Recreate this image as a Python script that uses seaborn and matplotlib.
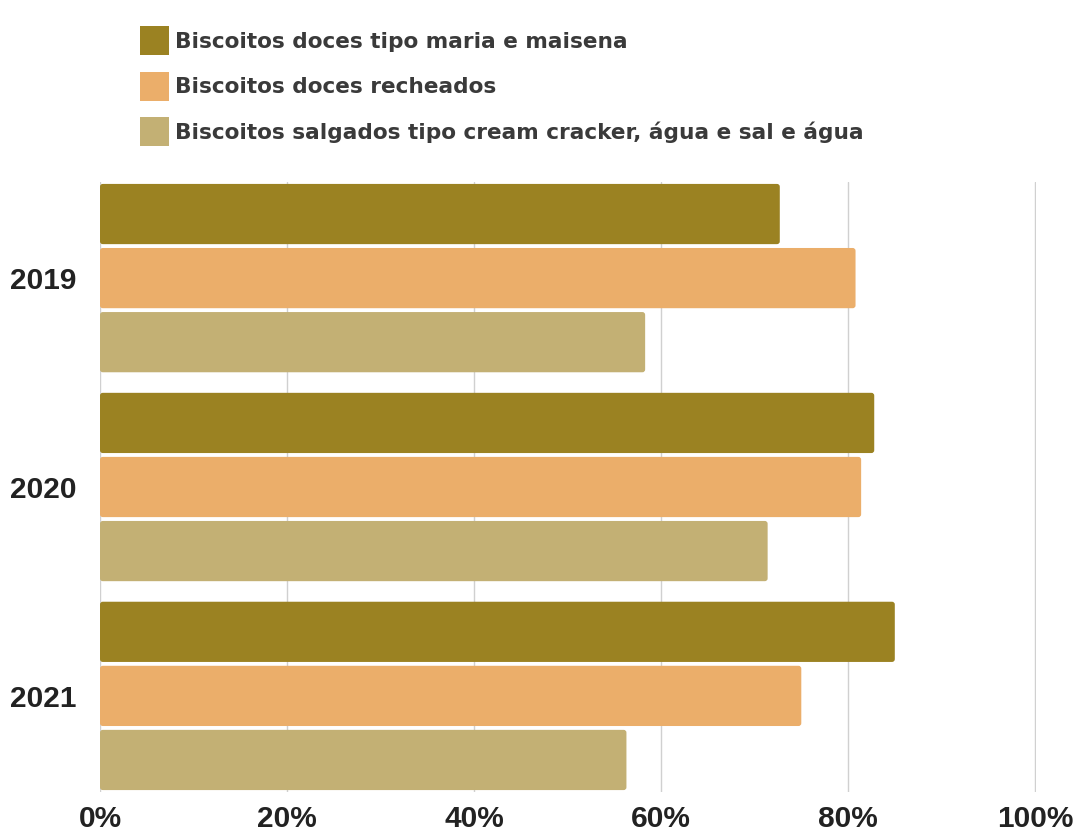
import numpy as np
import pandas as pd
import matplotlib
matplotlib.use('Agg')
import matplotlib.pyplot as plt
import seaborn as sns
from matplotlib.patches import FancyBboxPatch, Patch

years = ['2019', '2020', '2021']
series = ['Biscoitos doces tipo maria e maisena',
          'Biscoitos doces recheados',
          'Biscoitos salgados tipo cream cracker, água e sal e água']
maria = [72.7, 82.8, 85.0]
recheados = [80.8, 81.4, 75.0]
salgados = [58.3, 71.4, 56.3]
colors = ['#9B8222', '#EBAE6A', '#C3B074']
xticks = [0, 20, 40, 60, 80, 100]
xticklabels = ['0%', '20%', '40%', '60%', '80%', '100%']

df = pd.DataFrame({
    'year': years * 3,
    'series': np.repeat(series, 3),
    'value': maria + recheados + salgados,
})

sns.set_theme(style='white')
plt.rcParams['font.family'] = ['Liberation Sans', 'DejaVu Sans']

W, H = 1077, 833
fig = plt.figure(figsize=(W / 100, H / 100), dpi=100)
ax = fig.add_axes([100 / W, 41 / H, 936 / W, 610 / H])

sns.barplot(data=df, y='year', x='value', hue='series', hue_order=series,
            order=years, palette=colors, orient='h', width=0.92, gap=0.06,
            saturation=1, legend=False, edgecolor='none', ax=ax)

ax.set_xlim(0, 100.1)
ax.set_ylim(2.46, -0.46)

# rounded bar corners
xpp = 100 / 936
ypp = 2.92 / 610
for p in list(ax.patches):
    x, y, w, h = p.get_x(), p.get_y(), p.get_width(), p.get_height()
    fc = p.get_facecolor()
    p.remove()
    fb = FancyBboxPatch((x, y), w, h,
                        boxstyle='round,pad=0,rounding_size=0.3',
                        mutation_aspect=ypp / xpp, facecolor=fc,
                        edgecolor='none', zorder=2)
    ax.add_patch(fb)

ax.set_xticks(xticks)
ax.set_xticklabels(xticklabels)
ax.xaxis.grid(True, color='#d0d0d0', lw=1)
ax.set_axisbelow(True)
for s in ax.spines.values():
    s.set_visible(False)
ax.set_xlabel('')
ax.set_ylabel('')
ax.tick_params(axis='both', length=0)
ax.tick_params(axis='x', pad=9.5)
ax.tick_params(axis='y', pad=16.7)
for lab in ax.get_xticklabels() + ax.get_yticklabels():
    lab.set_fontsize(21.5)
    lab.set_fontweight('bold')
    lab.set_color('#222222')
    lab.set_family('Liberation Sans')

fs = 15.6
fpx = fs * 100 / 72
sq = 29
hh = (sq / fpx - 0.245) / 0.65
handles = [Patch(facecolor=c, edgecolor='none') for c in colors]
fig.legend(handles, series, loc='upper left',
           bbox_to_anchor=(140 / W, 1 - 26 / H), frameon=False,
           prop=dict(family='DejaVu Sans', weight='bold', size=fs),
           labelcolor='#3a3a3a',
           handlelength=sq / fpx, handleheight=hh,
           handletextpad=6 / fpx,
           labelspacing=(45.5 - hh * fpx + 7.5) / fpx,
           borderpad=0, borderaxespad=0)

fig.savefig('out.png', dpi=100, facecolor='white')
